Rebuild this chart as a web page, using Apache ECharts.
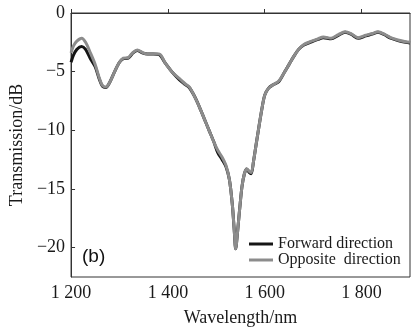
<!DOCTYPE html>
<html>
<head>
<meta charset="utf-8">
<script src="https://cdn.jsdelivr.net/npm/echarts@6/dist/echarts.min.js"></script>
<style>html,body{margin:0;padding:0;background:#fff}#c{width:412px;height:333px}</style>
</head>
<body>
<div id="c"></div>
<script>
const wavelength = [1200,1205,1212,1222,1230,1240,1250,1258,1265,1272,1280,1290,1300,1308,1318,1328,1337,1347,1358,1370,1382,1395,1410,1424,1436,1444,1455,1465,1475,1485,1495,1503,1512,1520,1527,1533,1537,1540,1544,1548,1553,1558,1563,1568,1572,1577,1583,1588,1594,1600,1608,1618,1629,1640,1650,1660,1670,1680,1697,1710,1721,1737,1752,1766,1778,1793,1809,1822,1834,1847,1860,1875,1891,1900];
const forward = [-4.2,-3.6,-3.1,-2.85,-3.1,-3.9,-4.6,-5.6,-6.25,-6.35,-5.9,-5.0,-4.2,-3.9,-3.85,-3.4,-3.2,-3.4,-3.5,-3.5,-3.55,-4.3,-5.1,-5.7,-6.1,-6.35,-7.1,-8.0,-9.0,-10.0,-11.0,-11.9,-12.5,-13.1,-14.2,-16.3,-18.5,-20.1,-18.6,-16.8,-14.8,-13.7,-13.3,-13.6,-13.7,-12.6,-11.0,-9.7,-8.2,-7.0,-6.4,-6.1,-5.85,-5.1,-4.4,-3.7,-3.1,-2.75,-2.45,-2.25,-2.1,-2.2,-1.9,-1.65,-1.8,-2.15,-1.95,-1.8,-1.65,-1.85,-2.15,-2.35,-2.5,-2.55];
const opposite = [-3.4,-2.8,-2.4,-2.15,-2.5,-3.4,-4.4,-5.5,-6.2,-6.3,-5.9,-5.0,-4.2,-3.85,-3.8,-3.35,-3.15,-3.35,-3.5,-3.5,-3.5,-4.3,-5.1,-5.6,-6.05,-6.3,-7.1,-8.0,-9.0,-10.0,-11.0,-11.7,-12.3,-13.0,-14.2,-16.3,-18.5,-20.1,-18.6,-16.8,-14.8,-13.7,-13.3,-13.5,-13.6,-12.6,-11.0,-9.7,-8.2,-7.0,-6.4,-6.1,-5.8,-5.1,-4.4,-3.7,-3.1,-2.7,-2.4,-2.2,-2.05,-2.15,-1.85,-1.6,-1.75,-2.1,-1.9,-1.75,-1.6,-1.8,-2.1,-2.3,-2.45,-2.5];
const xTicks = [1200,1400,1600,1800];
const yTicks = [0,-5,-10,-15,-20];
const seriesNames = ['Forward direction','Opposite  direction'];

const fwdData = wavelength.map((x,i)=>[x,forward[i]]);
const oppData = wavelength.map((x,i)=>[x,opposite[i]]);
const serif = 'Liberation Serif';
const fmtX = v => { const s = String(v); return s.length === 4 ? s[0] + ' ' + s.slice(1) : s; };
const fmtY = v => v < 0 ? '\u2212' + Math.abs(v) : String(v);

const chart = echarts.init(document.getElementById('c'), null, {renderer:'canvas'});
chart.setOption({
  animation:false,
  backgroundColor:'#fff',
  grid:{left:70,right:2,top:13,bottom:56,show:true,borderColor:'#333',borderWidth:1,backgroundColor:'transparent'},
  xAxis:{
    type:'value',min:1200,max:1900,
    name:'Wavelength/nm',nameLocation:'middle',nameGap:32,
    nameTextStyle:{fontFamily:serif,fontSize:18,color:'#1a1a1a'},
    axisLine:{show:true,lineStyle:{color:'#333',width:1}},
    axisTick:{show:true,inside:true,length:4,customValues:xTicks,lineStyle:{color:'#333'}},
    axisLabel:{customValues:xTicks,formatter:fmtX,fontFamily:serif,fontSize:18,color:'#1a1a1a',margin:7},
    splitLine:{show:false}
  },
  yAxis:{
    type:'value',min:-22.5,max:0,
    name:'Transmission/dB',nameLocation:'middle',nameGap:44,
    nameTextStyle:{fontFamily:serif,fontSize:18,color:'#1a1a1a'},
    axisLine:{show:true,lineStyle:{color:'#333',width:1}},
    axisTick:{show:true,inside:true,length:4,customValues:yTicks,lineStyle:{color:'#333'}},
    axisLabel:{customValues:yTicks,formatter:fmtY,fontFamily:serif,fontSize:18,color:'#1a1a1a',margin:6},
    splitLine:{show:false}
  },
  legend:{
    orient:'vertical',left:244,top:231,itemWidth:24,itemHeight:3,itemGap:0,icon:'rect',
    data:seriesNames,
    textStyle:{fontFamily:serif,fontSize:16,color:'#1a1a1a',lineHeight:13}
  },
  graphic:[{type:'text',left:82,top:247,style:{text:'(b)',font:'19px "Liberation Sans"',fill:'#111'}}],
  series:[
    {name:seriesNames[0],type:'line',data:fwdData,symbol:'none',smooth:0.3,lineStyle:{color:'#151515',width:3},itemStyle:{color:'#151515'}},
    {name:seriesNames[1],type:'line',data:oppData,symbol:'none',smooth:0.3,lineStyle:{color:'#8c8c8c',width:3},itemStyle:{color:'#8c8c8c'}}
  ]
});
</script>
</body>
</html>
